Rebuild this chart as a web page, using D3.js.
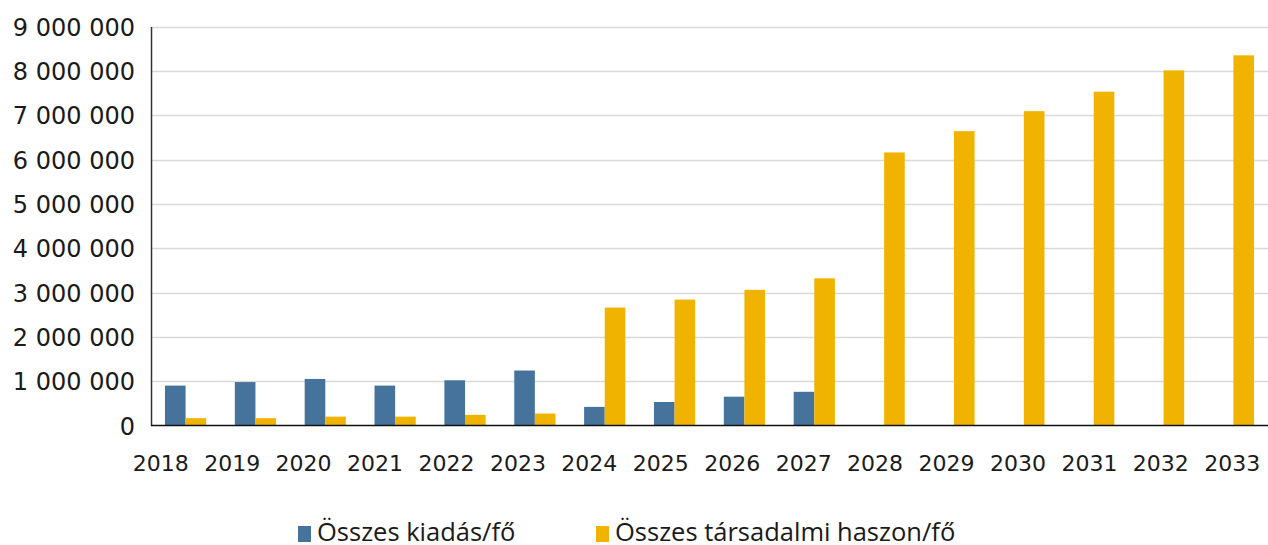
<!DOCTYPE html>
<html>
<head>
<meta charset="utf-8">
<script src="https://cdn.jsdelivr.net/npm/d3@7"></script>
<style>
    body { margin: 0; background: #fff; }
    text { font-family: "DejaVu Sans", sans-serif; fill: #1a1a1a; }
    .legend text { font-family: "Open Sans", "DejaVu Sans", sans-serif; }
</style>
</head>
<body>
<div id="chart"></div>
<script>
var years = ["2018", "2019", "2020", "2021", "2022", "2023", "2024", "2025",
             "2026", "2027", "2028", "2029", "2030", "2031", "2032", "2033"];
var seriesNames = ["Összes kiadás/fő", "Összes társadalmi haszon/fő"];
var kiadas = [900000, 980000, 1050000, 900000, 1020000, 1240000, 420000, 530000,
              650000, 760000, null, null, null, null, null, null];
var haszon = [165000, 165000, 200000, 200000, 240000, 270000, 2660000, 2840000,
              3060000, 3320000, 6160000, 6640000, 7090000, 7530000, 8010000, 8350000];
var yTicks = [0, 1000000, 2000000, 3000000, 4000000, 5000000, 6000000, 7000000, 8000000, 9000000];
var colors = ["#46739c", "#f0b400"];

var width = 1268,
    height = 545,
    margin = {top: 26, right: 0, bottom: 120, left: 151};

var svg = d3.select("#chart").append("svg")
    .attr("width", width)
    .attr("height", height);

var x = d3.scaleBand()
    .domain(years)
    .range([margin.left, width - margin.right])
    .paddingInner(0.41)
    .paddingOuter(0.2);

var x1 = d3.scaleBand()
    .domain([0, 1])
    .range([0, x.bandwidth()]);

// the year labels sit on a slightly wider, left-shifted grid than the bars
var xLabel = d3.scaleBand()
    .domain(years)
    .range([125, width]);

var y = d3.scaleLinear()
    .domain([0, 9000000])
    .range([height - margin.bottom + 0.5, margin.top + 0.5]);

var fmt = function(d) {
    return d3.format(",")(d).replace(/,/g, " ");
};

// gridlines
svg.append("g")
    .selectAll("line")
    .data(yTicks.slice(1))
    .enter().append("line")
    .attr("x1", margin.left)
    .attr("x2", width)
    .attr("y1", function(d) { return Math.round(y(d)) + 0.5; })
    .attr("y2", function(d) { return Math.round(y(d)) + 0.5; })
    .style("stroke", "#d9d9d9")
    .style("stroke-width", 1.5);

var data = years.map(function(yr, i) {
    return {year: yr, values: [kiadas[i], haszon[i]]};
});

svg.append("g")
    .selectAll("g")
    .data(data)
    .enter().append("g")
    .attr("transform", function(d) { return "translate(" + x(d.year) + ",0)"; })
    .selectAll("rect")
    .data(function(d) {
        return d.values.map(function(v, k) { return {k: k, v: v}; })
            .filter(function(e) { return e.v !== null; });
    })
    .enter().append("rect")
    .attr("x", function(d) { return x1(d.k); })
    .attr("width", x1.bandwidth())
    .attr("y", function(d) { return y(d.v); })
    .attr("height", function(d) { return y(0) - y(d.v); })
    .attr("fill", function(d) { return colors[d.k]; });

// axes
var yAxis = svg.append("g")
    .attr("transform", "translate(" + margin.left + ",0)")
    .call(d3.axisLeft(y).tickValues(yTicks).tickFormat(fmt).tickSize(0).tickPadding(16));
yAxis.select(".domain").style("stroke", "#333").style("stroke-width", 1.5);
yAxis.selectAll("text").style("font-size", "24px").attr("dy", "0.36em");

var xAxis = svg.append("g")
    .attr("transform", "translate(0," + y(0) + ")")
    .call(d3.axisBottom(xLabel).tickSize(0));
xAxis.select(".domain").attr("d", "M" + margin.left + ",0H" + width)
    .style("stroke", "#111").style("stroke-width", 1.5);
xAxis.selectAll("text")
    .style("font-size", "22px")
    .attr("y", 45)
    .attr("dy", 0);

// legend
var legendX = [298, 596];
var legend = svg.append("g")
    .attr("class", "legend")
    .selectAll("g")
    .data(seriesNames)
    .enter().append("g")
    .attr("transform", function(d, i) { return "translate(" + legendX[i] + ",541)"; });

legend.append("rect")
    .attr("width", 13)
    .attr("height", 16)
    .attr("y", -15)
    .attr("fill", function(d, i) { return colors[i]; });

legend.append("text")
    .attr("x", 19)
    .attr("y", 0)
    .style("font-size", "25.5px")
    .text(function(d) { return d; });
</script>
</body>
</html>
